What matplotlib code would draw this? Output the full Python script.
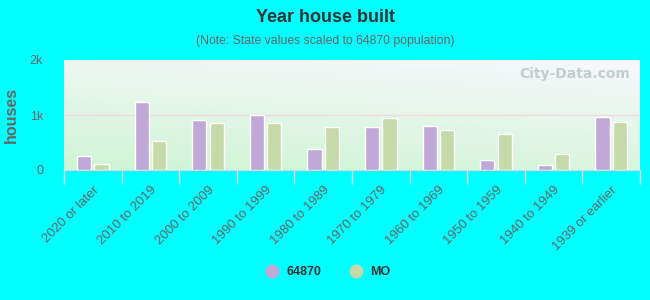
import numpy as np
import matplotlib
matplotlib.use("Agg")
import matplotlib.pyplot as plt
from matplotlib.lines import Line2D

plt.rcParams['font.family'] = ['Liberation Sans', 'DejaVu Sans']

categories = ["2020 or later", "2010 to 2019", "2000 to 2009", "1990 to 1999",
              "1980 to 1989", "1970 to 1979", "1960 to 1969", "1950 to 1959",
              "1940 to 1949", "1939 or earlier"]
zip_values = [249, 1230, 903, 994, 376, 776, 794, 176, 85, 958]
mo_values = [104, 522, 848, 848, 776, 940, 721, 649, 285, 867]
series_names = ["64870", "MO"]
yticks = [0, 1000, 2000]
ytick_labels = ["0", "1k", "2k"]

purple = "#c0a8d8"
green = "#c5d9a9"
bg = "#00ffff"

fig = plt.figure(figsize=(6.5, 3.0), dpi=100, facecolor=bg)
ax = fig.add_axes([64/650, 130/300, 576/650, 110/300])
ax.set_facecolor("none")

# gradient background
ny, nx = 100, 100
yy, xx = np.mgrid[0:1:ny*1j, 0:1:nx*1j]
t = np.clip(0.75*yy + 0.25*xx, 0, 1)
bottom = np.array([0.81, 0.96, 0.83])
top = np.array([0.97, 0.97, 0.99])
img = bottom[None, None, :]*(1-t[..., None]) + top[None, None, :]*t[..., None]
ax.imshow(img, extent=[0, 1, 0, 1], origin="lower", aspect="auto",
          transform=ax.transAxes, zorder=0)

x = np.arange(len(categories))
w = 0.245
off = 0.152
ax.bar(x - off, zip_values, w, color=purple, edgecolor="white", linewidth=1, zorder=3)
ax.bar(x + off, mo_values, w, color=green, edgecolor="white", linewidth=1, zorder=3)

ax.set_xlim(-0.5, len(categories) - 0.5)
ax.set_ylim(0, 2000)
ax.axhline(1000, color="#f0d8e0", linewidth=1, zorder=1)

for s in ["top", "right", "left"]:
    ax.spines[s].set_visible(False)
ax.spines["bottom"].set_color("#d8d8e8")
ax.set_yticks(yticks)
ax.set_yticklabels(ytick_labels, fontsize=9, color="#666666")
ax.tick_params(axis="y", length=0, pad=15)

ax.set_xticks(np.arange(len(categories) + 1) - 0.5, minor=False)
ax.set_xticklabels([])
ax.tick_params(axis="x", which="major", length=10, color="#e0e0ee", width=1)
ax.set_xticks(x, minor=True)
ax.set_xticklabels(categories, minor=True, rotation=45, ha="right",
                   rotation_mode="anchor", fontsize=9.5, color="#666666")
ax.tick_params(axis="x", which="minor", length=0, pad=10)

ax.set_ylabel("houses", fontsize=11.5, fontweight="bold", color="#666666", labelpad=8)

ax.text(0.983, 0.875, "City-Data.com", transform=ax.transAxes, ha="right", va="center",
        fontsize=10, color="#c4cccf", fontweight="bold", family="DejaVu Sans", zorder=2)

fig.text(0.5, 0.943, "Year house built", ha="center", va="center",
         fontsize=13, fontweight="bold", color="#333333")
fig.text(0.5, 0.863, "(Note: State values scaled to 64870 population)", ha="center",
         va="center", fontsize=8.8, color="#666666")

handles = [Line2D([0], [0], marker="o", linestyle="none", markersize=9,
                  markerfacecolor=c, markeredgecolor=c) for c in (purple, green)]
leg = fig.legend(handles, series_names, loc="center", bbox_to_anchor=(0.5, 0.093),
                 ncol=2, frameon=False, fontsize=9, handletextpad=0.1,
                 columnspacing=1.8)
for txt in leg.get_texts():
    txt.set_color("#333333")
    txt.set_fontweight("bold")

fig.savefig("out.png", dpi=100, facecolor=bg)
